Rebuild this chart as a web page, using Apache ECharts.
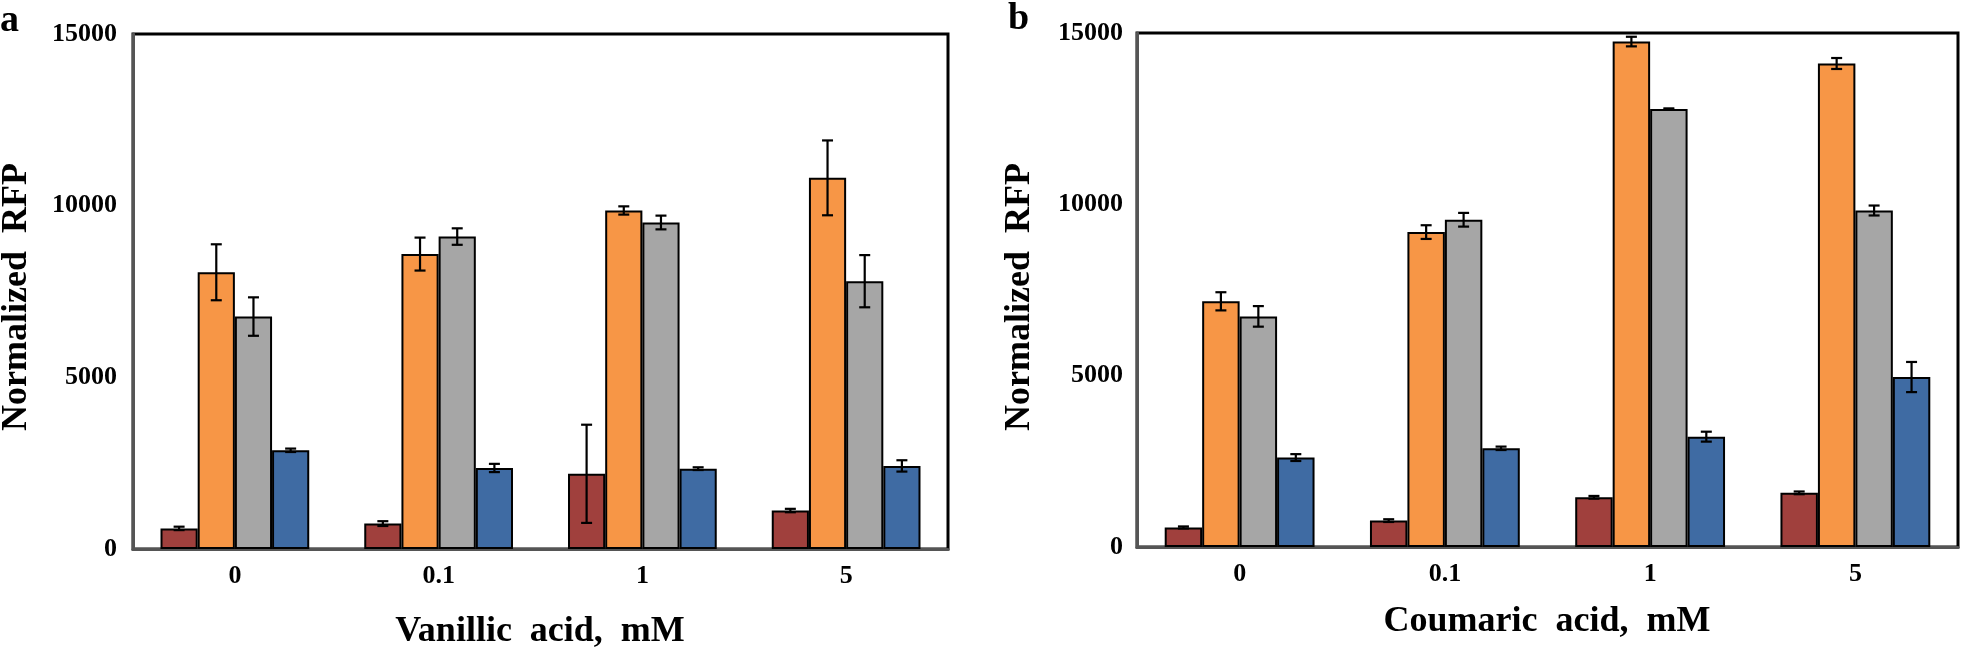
<!DOCTYPE html>
<html>
<head>
<meta charset="utf-8">
<script src="https://cdn.jsdelivr.net/npm/echarts@6/dist/echarts.min.js"></script>
<style>
html,body{margin:0;padding:0;background:#fff;}
#chart{width:1961px;height:650px;}
</style>
</head>
<body>
<div id="chart"></div>
<script>
// ---- data ----
const categories = ['0', '0.1', '1', '5'];
const yTicks = [0, 5000, 10000, 15000];
const seriesNames = ['Series 1', 'Series 2', 'Series 3', 'Series 4'];

// Panel a: Vanillic acid
const vanRed = [600, 740, 2190, 1120];
const vanRedErr = [50, 70, 1430, 50];
const vanOrange = [8060, 8590, 9860, 10810];
const vanOrangeErr = [815, 480, 120, 1090];
const vanGray = [6770, 9100, 9510, 7800];
const vanGrayErr = [560, 240, 200, 760];
const vanBlue = [2875, 2360, 2340, 2420];
const vanBlueErr = [50, 120, 40, 165];

// Panel b: Coumaric acid
const couRed = [570, 770, 1450, 1580];
const couRedErr = [30, 40, 40, 40];
const couOrange = [7170, 9190, 14750, 14110];
const couOrangeErr = [265, 200, 140, 160];
const couGray = [6730, 9550, 12780, 9820];
const couGrayErr = [300, 200, 20, 145];
const couBlue = [2610, 2880, 3220, 4960];
const couBlueErr = [100, 50, 145, 440];

const colors = ['#A0403D', '#F79646', '#A6A6A6', '#3F6BA3'];
const FONT = '"Liberation Serif", "Times New Roman", serif';
const GAP = 0.27;

const panels = [
  {means: [vanRed, vanOrange, vanGray, vanBlue], errs: [vanRedErr, vanOrangeErr, vanGrayErr, vanBlueErr]},
  {means: [couRed, couOrange, couGray, couBlue], errs: [couRedErr, couOrangeErr, couGrayErr, couBlueErr]}
];

const grids = [
  {left: 133, top: 34, width: 815, height: 515},
  {left: 1137, top: 33, width: 821, height: 514}
];

const chart = echarts.init(document.getElementById('chart'), null, {renderer: 'canvas'});

const xAxes = [], yAxes = [], series = [];
grids.forEach((g, gi) => {
  xAxes.push({
    type: 'category', gridIndex: gi, data: categories,
    axisLine: {show: true, lineStyle: {color: '#555', width: 3}},
    axisTick: {show: false},
    axisLabel: {color: '#000', fontFamily: FONT, fontWeight: 'bold', fontSize: 26, margin: 14}
  });
  yAxes.push({
    type: 'value', gridIndex: gi, min: yTicks[0], max: yTicks[yTicks.length - 1], interval: 5000,
    splitLine: {show: false},
    axisLine: {show: true, lineStyle: {color: '#555', width: 3}},
    axisTick: {show: false},
    axisLabel: {color: '#000', fontFamily: FONT, fontWeight: 'bold', fontSize: 26, margin: gi === 0 ? 16 : 14,
      formatter: function (v) { return String(v); }}
  });
  const p = panels[gi];
  p.means.forEach((m, k) => {
    series.push({
      name: seriesNames[k], type: 'bar', xAxisIndex: gi, yAxisIndex: gi,
      data: m, barGap: '0%', barCategoryGap: (GAP * 100) + '%',
      itemStyle: {color: colors[k], borderColor: '#000', borderWidth: 2},
      z: 2
    });
  });
  p.means.forEach((m, k) => {
    const errData = m.map((v, i) => [i, v, p.errs[k][i]]);
    series.push({
      type: 'custom', xAxisIndex: gi, yAxisIndex: gi, z: 5,
      encode: {x: 0, y: 1},
      data: errData,
      renderItem: function (params, api) {
        const idx = api.value(0), mean = api.value(1), err = api.value(2);
        const band = api.size([1, 0])[0];
        const bw = band * (1 - GAP) / 4;
        const cx = api.coord([idx, mean])[0] + (k - 1.5) * bw;
        const yt = api.coord([idx, mean + err])[1];
        const yb = api.coord([idx, mean - err])[1];
        const hw = 5.5;
        const st = {stroke: '#000', lineWidth: 2.2};
        return {
          type: 'group',
          children: [
            {type: 'line', shape: {x1: cx, y1: yt, x2: cx, y2: yb}, style: st},
            {type: 'line', shape: {x1: cx - hw, y1: yt, x2: cx + hw, y2: yt}, style: st},
            {type: 'line', shape: {x1: cx - hw, y1: yb, x2: cx + hw, y2: yb}, style: st}
          ]
        };
      }
    });
  });
});

const titleStyle = {fontFamily: FONT, fontWeight: 'bold', fontSize: 36, fill: '#000', textAlign: 'center', textVerticalAlign: 'middle'};

chart.setOption({
  animation: false,
  backgroundColor: '#fff',
  grid: grids.map(g => Object.assign({show: true, borderColor: '#000', borderWidth: 3, backgroundColor: 'transparent'}, g)),
  xAxis: xAxes,
  yAxis: yAxes,
  series: series,
  graphic: [
    {type: 'text', left: 0, top: 2, style: {text: 'a', fontFamily: FONT, fontWeight: 'bold', fontSize: 38, fill: '#000'}},
    {type: 'text', left: 1008, top: 0, style: {text: 'b', fontFamily: FONT, fontWeight: 'bold', fontSize: 38, fill: '#000'}},
    {type: 'text', x: 17, y: 297, rotation: Math.PI / 2, style: Object.assign({text: 'Normalized  RFP'}, titleStyle)},
    {type: 'text', x: 1020, y: 297, rotation: Math.PI / 2, style: Object.assign({text: 'Normalized  RFP'}, titleStyle)},
    {type: 'text', x: 540, y: 632, style: Object.assign({text: 'Vanillic  acid,  mM'}, titleStyle)},
    {type: 'text', x: 1547, y: 622, style: Object.assign({text: 'Coumaric  acid,  mM'}, titleStyle)}
  ]
});
</script>
</body>
</html>
